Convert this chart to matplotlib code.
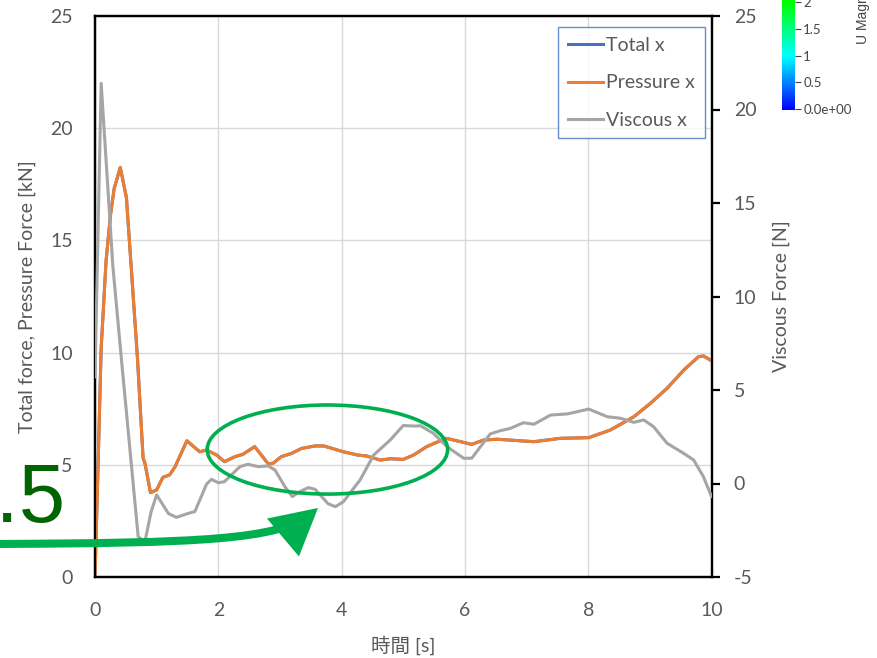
import matplotlib
matplotlib.use("Agg")
import matplotlib.pyplot as plt
import numpy as np
from matplotlib.patches import Ellipse, FancyArrowPatch
from matplotlib.path import Path
from matplotlib.colors import LinearSegmentedColormap

plt.rcParams['font.family'] = ['Lato', 'Noto Sans CJK JP', 'DejaVu Sans']
plt.rcParams['axes.unicode_minus'] = False

# ---- data ----
pressure_t = [0.0, 0.05, 0.1, 0.18, 0.25, 0.31, 0.41, 0.51, 0.69, 0.78, 0.81, 0.9, 1.0, 1.1,
              1.21, 1.3, 1.49, 1.7, 1.81, 1.97, 2.1, 2.27, 2.4, 2.59, 2.81, 2.89, 3.02,
              3.19, 3.35, 3.57, 3.71, 4.03, 4.25, 4.41, 4.63, 4.79, 5.0, 5.17, 5.38, 5.6,
              5.7, 5.9, 6.11, 6.3, 6.52, 7.12, 7.55, 8.01, 8.36, 8.74, 9.01, 9.28, 9.55,
              9.79, 9.87, 10.0]
pressure_kN = [0.0, 5.0, 10.2, 14.1, 16.1, 17.3, 18.25, 16.9, 9.7, 5.3, 5.07, 3.76, 3.88, 4.44,
               4.55, 4.92, 6.07, 5.58, 5.66, 5.44, 5.14, 5.36, 5.47, 5.81, 5.04, 5.07, 5.36,
               5.51, 5.73, 5.84, 5.84, 5.58, 5.44, 5.39, 5.21, 5.27, 5.24, 5.44, 5.81, 6.07,
               6.18, 6.05, 5.91, 6.10, 6.14, 6.03, 6.18, 6.21, 6.55, 7.14, 7.74, 8.41, 9.22,
               9.82, 9.85, 9.64]
total_kN = [0.0, 5.0, 10.2, 14.1, 16.1, 17.3, 18.25, 16.9, 9.7, 5.3, 5.07, 3.76, 3.88, 4.44,
            4.55, 4.92, 6.07, 5.58, 5.66, 5.44, 5.14, 5.36, 5.47, 5.81, 5.04, 5.07, 5.36,
            5.51, 5.73, 5.84, 5.84, 5.58, 5.44, 5.39, 5.21, 5.27, 5.24, 5.44, 5.81, 6.07,
            6.18, 6.05, 5.91, 6.10, 6.14, 6.03, 6.18, 6.21, 6.55, 7.14, 7.74, 8.41, 9.22,
            9.82, 9.85, 9.64]
viscous_t = [0.0, 0.1, 0.29, 0.43, 0.70, 0.76, 0.81, 0.91, 1.0, 1.19, 1.32, 1.51, 1.62, 1.81,
             1.89, 2.0, 2.1, 2.35, 2.48, 2.65, 2.81, 2.92, 3.08, 3.2, 3.32, 3.46, 3.57,
             3.78, 3.9, 4.03, 4.3, 4.52, 4.79, 5.0, 5.2, 5.28, 5.49, 5.71, 5.98, 6.11,
             6.41, 6.57, 6.74, 6.95, 7.12, 7.39, 7.66, 8.01, 8.31, 8.52, 8.74, 8.9, 9.06,
             9.28, 9.55, 9.71, 9.87, 10.0]
viscous_N = [5.7, 21.4, 11.6, 6.6, -2.84, -3.0, -3.11, -1.51, -0.61, -1.6, -1.81, -1.6, -1.5, -0.03,
             0.22, 0.04, 0.1, 0.9, 1.03, 0.9, 0.94, 0.72, -0.17, -0.7, -0.44, -0.22, -0.31,
             -1.08, -1.24, -0.97, 0.19, 1.52, 2.33, 3.1, 3.07, 3.09, 2.68, 1.97, 1.35, 1.35,
             2.65, 2.82, 2.95, 3.25, 3.17, 3.66, 3.72, 3.98, 3.57, 3.49, 3.27, 3.4, 3.04,
             2.15, 1.61, 1.26, 0.36, -0.7]

series_labels = ["Total x", "Pressure x", "Viscous x"]
series_colors = ["#4472C4", "#ED7D31", "#A5A5A5"]
x_ticks = [0, 2, 4, 6, 8, 10]
left_ticks = [0, 5, 10, 15, 20, 25]
right_ticks = [-5, 0, 5, 10, 15, 20, 25]
cbar_ticks = [0, 0.5, 1, 1.5, 2]
cbar_ticklabels = ["0.0e+00", "0.5", "1", "1.5", "2"]

W, H = 877, 658
fig = plt.figure(figsize=(W / 100, H / 100), dpi=100)
fig.patch.set_facecolor('white')

def fx(px):
    return px / W

def fy(py):
    return 1 - py / H

TXT = '#595959'
ax = fig.add_axes([fx(95), fy(577), fx(711.5) - fx(95), fy(16) - fy(577)])
ax2 = ax.twinx()

l_total, = ax.plot(pressure_t, total_kN, color=series_colors[0], lw=2.2, zorder=3)
l_press, = ax.plot(pressure_t, pressure_kN, color=series_colors[1], lw=2.2, zorder=4)
l_visc, = ax2.plot(viscous_t, viscous_N, color=series_colors[2], lw=2.2, zorder=3)

ax.set_xlim(0, 10)
ax.set_ylim(0, 25)
ax2.set_ylim(-5, 25)
ax.set_xticks(x_ticks)
ax.set_yticks(left_ticks)
ax2.set_yticks(right_ticks)

ax.grid(True, color='#D9D9D9', lw=1.0)
ax.set_axisbelow(True)

for a in (ax, ax2):
    for s in a.spines.values():
        s.set_color('black')
        s.set_linewidth(1.6)

ax.tick_params(axis='y', length=0, labelsize=14, labelcolor=TXT, pad=16)
ax.tick_params(axis='x', length=0, labelsize=14, labelcolor=TXT, pad=18)
ax2.tick_params(axis='y', length=6, width=1.6, color='black', direction='out',
                labelsize=14, labelcolor=TXT, pad=10)

ax.set_xlabel("時間 [s]", fontsize=14, color=TXT, labelpad=12)
ax.set_ylabel("Total force, Pressure Force [kN]", fontsize=14, color=TXT, labelpad=10)
ax2.set_ylabel("Viscous Force [N]", fontsize=14, color=TXT, rotation=90, labelpad=12)

leg = ax2.legend([l_total, l_press, l_visc], series_labels, loc='upper right',
                 bbox_to_anchor=(0.989, 0.980), borderaxespad=0, fontsize=14,
                 frameon=True, fancybox=False, handlelength=1.8, handletextpad=0.15,
                 labelspacing=1.05, borderpad=0.5)
leg.get_frame().set_edgecolor('#4472C4')
leg.get_frame().set_linewidth(1.0)
for t in leg.get_texts():
    t.set_color(TXT)

# green ellipse annotation
ell = Ellipse((3.77, 5.68), 3.90, 3.97, fill=False, ec='#00B050', lw=2.6,
              transform=ax.transData, zorder=10)
fig.add_artist(ell)

# green curved arrow
verts = [(fx(-5), fy(544)), (fx(200), fy(543)), (fx(280), fy(540)), (fx(318), fy(508))]
codes = [Path.MOVETO, Path.CURVE4, Path.CURVE4, Path.CURVE4]
arrow = FancyArrowPatch(path=Path(verts, codes), arrowstyle='-|>,head_length=24,head_width=13',
                        mutation_scale=1, color='#00B050', lw=5.8, transform=fig.transFigure,
                        joinstyle='miter', capstyle='butt', zorder=11)
fig.add_artist(arrow)

# big dark green text fragment
fig.text(fx(66), fy(522), "1.5", fontsize=60, color='#006400', ha='right', va='baseline',
         family='Liberation Sans', zorder=12)

# colorbar fragment
cax = fig.add_axes([fx(782), fy(110), fx(795) - fx(782), fy(0) - fy(110)])
cmap = LinearSegmentedColormap.from_list('umag', [(0, (0, 0, 1)), (0.5, (0, 1, 1)), (1.0, (0, 1, 0))])
grad = np.linspace(0, 2.04, 256).reshape(-1, 1)
cax.imshow(grad, aspect='auto', cmap=cmap, origin='lower', extent=[0, 1, -0.02, 2.04], vmin=0, vmax=2)
cax.set_ylim(-0.02, 2.04)
cax.set_xticks([])
cax.yaxis.tick_right()
cax.set_yticks(cbar_ticks)
cax.set_yticklabels(cbar_ticklabels)
cax.tick_params(axis='y', length=4, width=0.8, color='#444444', labelsize=9.5, labelcolor='#444444', pad=2)
for s in cax.spines.values():
    s.set_visible(False)
fig.text(fx(863), fy(44), "U Magnitude", rotation=90, fontsize=10, color='#444444', ha='center',
         va='bottom', family='Liberation Sans')

fig.savefig("out.png", dpi=100, facecolor='white')
